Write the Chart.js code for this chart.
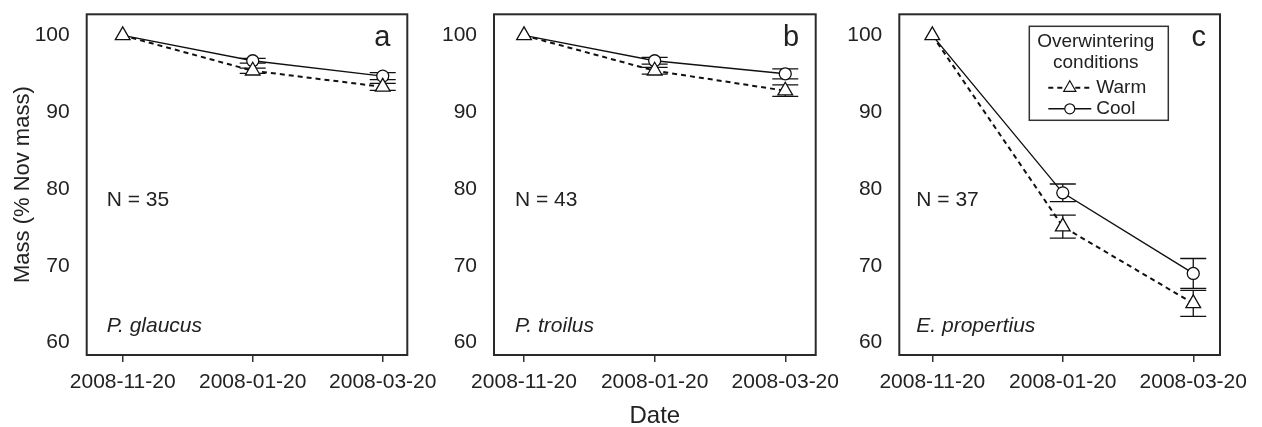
<html>
<head>
<title>Overwintering mass</title>
<style>
  body { margin: 0; background: #fff; }
  canvas { position: absolute; left: 0; top: 0; }
</style>
</head>
<body>
<canvas id="chartA" width="1262" height="427"></canvas>
<canvas id="chartB" width="1262" height="427"></canvas>
<canvas id="chartC" width="1262" height="427"></canvas>
<script src="https://cdn.jsdelivr.net/npm/chart.js"></script>
<script>
var dates = ['2008-11-20', '2008-01-20', '2008-03-20'];
var yTicks = [60, 70, 80, 90, 100];
var species = ['P. glaucus', 'P. troilus', 'E. propertius'];
var sampleSizes = [35, 43, 37];
var panelLetters = ['a', 'b', 'c'];
var legendTitle = ['Overwintering', 'conditions'];

// mean mass (% of Nov mass) and SE, per species
var glaucusWarm = [100, 95.4, 93.3];
var glaucusWarmSE = [null, 0.35, 0.45];
var glaucusCool = [100, 96.7, 94.7];
var glaucusCoolSE = [null, 0.3, 0.45];

var troilusWarm = [100, 95.4, 92.8];
var troilusWarmSE = [null, 0.45, 0.75];
var troilusCool = [100, 96.7, 95.0];
var troilusCoolSE = [null, 0.45, 0.65];

var propertiusWarm = [100, 75.1, 65.1];
var propertiusWarmSE = [null, 1.5, 1.7];
var propertiusCool = [100, 79.5, 69.0];
var propertiusCoolSE = [null, 1.15, 1.95];

var FONT = '"Liberation Sans", Arial, Helvetica, sans-serif';
Chart.defaults.font.family = FONT;
Chart.defaults.color = '#222';

function points(vals) {
  return vals.map(function (v, i) { return {x: i, y: v}; });
}
function whiskers(vals, se) {
  var out = [];
  vals.forEach(function (v, i) {
    if (se[i] == null) return;
    out.push({x: i, y: v - se[i]}, {x: i, y: v + se[i]}, {x: i, y: null});
  });
  return out;
}
function caps(vals, se) {
  var out = [];
  vals.forEach(function (v, i) {
    if (se[i] == null) return;
    out.push({x: i, y: v - se[i]}, {x: i, y: v + se[i]});
  });
  return out;
}

function makeDatasets(warm, warmSE, cool, coolSE) {
  var bar = {borderColor: '#111', borderWidth: 1.3, pointRadius: 0, order: 3};
  var cap = {showLine: false, pointStyle: 'line', pointRadius: 13, pointBorderColor: '#111', pointBorderWidth: 1.3, order: 3};
  return [
    {label: 'Warm', data: points(warm), borderColor: '#111', borderWidth: 2, borderDash: [5, 4],
     pointStyle: 'triangle', pointRadius: 8.5, pointBackgroundColor: '#fff', pointBorderColor: '#111', pointBorderWidth: 1.3, order: 0},
    {label: 'Cool', data: points(cool), borderColor: '#111', borderWidth: 1.4,
     pointStyle: 'circle', pointRadius: function (c) { return c.dataIndex === 0 ? 0 : 6; },
     pointBackgroundColor: '#fff', pointBorderColor: '#111', pointBorderWidth: 1.3, order: 1},
    Object.assign({label: 'Warm SE', data: whiskers(warm, warmSE)}, bar),
    Object.assign({label: 'Warm SE caps', data: caps(warm, warmSE)}, cap),
    Object.assign({label: 'Cool SE', data: whiskers(cool, coolSE)}, bar),
    Object.assign({label: 'Cool SE caps', data: caps(cool, coolSE)}, cap)
  ];
}

var frame = {
  id: 'frame',
  afterDraw: function (chart) {
    var ctx = chart.ctx, a = chart.chartArea;
    ctx.save();
    ctx.strokeStyle = '#2a2a2a';
    ctx.lineWidth = 2;
    ctx.strokeRect(a.left, a.top, a.right - a.left, a.bottom - a.top);
    ctx.restore();
  }
};

var panelText = {
  id: 'panelText',
  afterDraw: function (chart, args, opts) {
    var ctx = chart.ctx, a = chart.chartArea;
    ctx.save();
    ctx.fillStyle = '#222';
    ctx.textBaseline = 'alphabetic';
    ctx.textAlign = 'right';
    ctx.font = '29px ' + FONT;
    ctx.fillText(opts.letter, a.right - opts.letterInset, a.top + 32);
    ctx.textAlign = 'left';
    ctx.font = '21px ' + FONT;
    ctx.fillText('N = ' + opts.n, a.left + opts.inset, a.top + 192);
    ctx.font = 'italic 21px ' + FONT;
    ctx.fillText(opts.species, a.left + opts.inset, a.top + 318);
    ctx.restore();
  }
};

function marker(ctx, style, x, y, r) {
  ctx.beginPath();
  if (style === 'triangle') {
    for (var k = 0; k < 3; k++) {
      var ang = k * 2 * Math.PI / 3;
      var px = x + Math.sin(ang) * r, py = y - Math.cos(ang) * r;
      if (k === 0) ctx.moveTo(px, py); else ctx.lineTo(px, py);
    }
    ctx.closePath();
  } else {
    ctx.arc(x, y, r, 0, 2 * Math.PI);
  }
  ctx.fill();
  ctx.stroke();
}

var boxLegend = {
  id: 'boxLegend',
  afterDraw: function (chart, args, opts) {
    if (!opts.show) return;
    var ctx = chart.ctx, a = chart.chartArea;
    var left = a.left + 130, top = a.top + 12, w = 139, h = 94;
    ctx.save();
    ctx.fillStyle = '#fff';
    ctx.fillRect(left, top, w, h);
    ctx.strokeStyle = '#333';
    ctx.lineWidth = 1.5;
    ctx.strokeRect(left, top, w, h);
    ctx.fillStyle = '#222';
    ctx.font = '19px ' + FONT;
    ctx.textAlign = 'center';
    ctx.textBaseline = 'middle';
    legendTitle.forEach(function (t, i) {
      ctx.fillText(t, left + 66.5, top + 15 + i * 21.5);
    });
    chart.data.datasets.slice(0, 2).forEach(function (ds, i) {
      var y = top + 61.5 + i * 21;
      ctx.strokeStyle = ds.borderColor;
      ctx.lineWidth = ds.borderWidth;
      ctx.setLineDash(ds.borderDash || []);
      ctx.beginPath();
      ctx.moveTo(left + 19, y);
      ctx.lineTo(left + 62, y);
      ctx.stroke();
      ctx.setLineDash([]);
      ctx.fillStyle = '#fff';
      ctx.strokeStyle = '#111';
      ctx.lineWidth = 1.2;
      marker(ctx, ds.pointStyle, left + 40.5, y, ds.pointStyle === 'triangle' ? 7 : 5);
      ctx.fillStyle = '#222';
      ctx.textAlign = 'left';
      ctx.fillText(ds.label, left + 67, y);
    });
    ctx.restore();
  }
};

function makeChart(id, idx, datasets, box) {
  var yWidth = idx === 0 ? box.left : 60;
  return new Chart(document.getElementById(id), {
    type: 'line',
    data: {datasets: datasets},
    options: {
      responsive: false,
      animation: false,
      events: [],
      layout: {padding: {left: box.left - yWidth, right: 1262 - box.right, top: 13.3, bottom: 0}},
      plugins: {
        legend: {display: false},
        tooltip: {enabled: false},
        panelText: {letter: panelLetters[idx], n: sampleSizes[idx], species: species[idx], inset: box.inset, letterInset: box.letterInset},
        boxLegend: {show: idx === 2}
      },
      scales: {
        x: {
          type: 'linear',
          min: box.xmin,
          max: box.xmax,
          afterBuildTicks: function (scale) { scale.ticks = dates.map(function (d, i) { return {value: i}; }); },
          afterFit: function (scale) {
            scale.height = 72;
            scale.paddingLeft = 0; scale.paddingRight = 0;
          },
          ticks: {
            callback: function (v) { return dates[v]; },
            font: {size: 21}, color: '#222', padding: 8, maxRotation: 0, autoSkip: false
          },
          grid: {display: true, drawOnChartArea: false, drawTicks: true, tickLength: 7, color: '#333', lineWidth: 1.5},
          border: {display: false},
          title: {display: idx === 1, text: 'Date', font: {size: 24}, color: '#222', padding: {top: 0, bottom: -4}}
        },
        y: {
          type: 'linear',
          min: 58.38,
          max: 102.75,
          afterBuildTicks: function (scale) { scale.ticks = yTicks.map(function (v) { return {value: v}; }); },
          afterFit: function (scale) {
            scale.width = yWidth;
            scale.paddingTop = 0; scale.paddingBottom = 0;
          },
          ticks: {font: {size: 21}, color: '#222', padding: 17},
          grid: {display: false, drawTicks: false},
          border: {display: false},
          title: {display: idx === 0, text: 'Mass (% Nov mass)', font: {size: 22}, color: '#222', padding: {top: 10, bottom: 0}}
        }
      }
    },
    plugins: [frame, panelText, boxLegend]
  });
}

makeChart('chartA', 0, makeDatasets(glaucusWarm, glaucusWarmSE, glaucusCool, glaucusCoolSE),
  {left: 86.7, right: 407.3, xmin: -0.277, xmax: 2.189, inset: 20, letterInset: 17});
makeChart('chartB', 1, makeDatasets(troilusWarm, troilusWarmSE, troilusCool, troilusCoolSE),
  {left: 494, right: 815.7, xmin: -0.23, xmax: 2.233, inset: 21, letterInset: 16.5});
makeChart('chartC', 2, makeDatasets(propertiusWarm, propertiusWarmSE, propertiusCool, propertiusCoolSE),
  {left: 899.3, right: 1220, xmin: -0.253, xmax: 2.205, inset: 17, letterInset: 14});
</script>
</body>
</html>
